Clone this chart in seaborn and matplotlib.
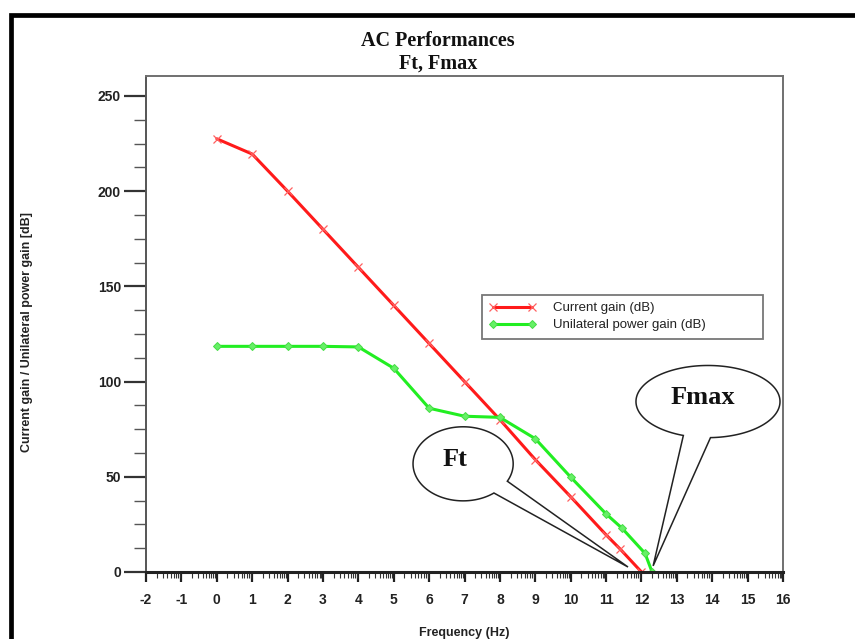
import numpy as np
import pandas as pd
import seaborn as sns
import matplotlib
matplotlib.use("Agg")
import matplotlib.pyplot as plt
from matplotlib.lines import Line2D
from matplotlib.patches import Polygon
from matplotlib.ticker import FixedLocator

# log10 of frequency (Hz) and the two gain curves (dB)
freq_current = [0, 1, 2, 3, 4, 5, 6, 7, 8, 9, 10, 11, 11.4, 12.0]
current_gain = [227.5, 219.5, 200, 180, 160, 140, 120, 100, 80, 59, 39.5, 19.5, 12, 0]

freq_power = [0, 1, 2, 3, 4, 5, 6, 7, 8, 9, 10, 11, 11.45, 12.1, 12.3]
power_gain = [118.5, 118.5, 118.5, 118.5, 118.2, 107, 86, 81.8, 81.2, 70, 49.8, 30.5, 23, 9.8, 0]

series_names = ["Current gain (dB)", "Unilateral power gain (dB)"]
x_ticks = list(range(-2, 17))
y_ticks = [0, 50, 100, 150, 200, 250]

sns.set_style("white")
plt.rcParams["font.family"] = ["Liberation Sans", "DejaVu Sans"]
plt.rcParams["axes.unicode_minus"] = False

df_current = pd.DataFrame({"freq": freq_current, "gain": current_gain})
df_power = pd.DataFrame({"freq": freq_power, "gain": power_gain})

RED = "#ff1a1a"
GREEN = "#22ee22"

fig = plt.figure(figsize=(8.55, 6.39), dpi=100)
ax = fig.add_axes([0.1708, 0.1049, 0.7450, 0.7762])

sns.lineplot(data=df_current, x="freq", y="gain", ax=ax, color=RED, lw=2.2,
             marker="x", markersize=5.5, markeredgewidth=0.9, markeredgecolor="#ff6060",
             sort=False, label=series_names[0])
sns.lineplot(data=df_power, x="freq", y="gain", ax=ax, color=GREEN, lw=2.2,
             marker="D", markersize=3.8, markeredgewidth=0.7, markerfacecolor="#66f066",
             markeredgecolor="#44dd44", sort=False, label=series_names[1])

ax.set_xlim(-2, 16)
ax.set_ylim(0, 260.5)

# axes frame
for side, sp in ax.spines.items():
    sp.set_visible(True)
    sp.set_color("#707070")
    sp.set_linewidth(1.4)
ax.spines["bottom"].set_color("#222222")
ax.spines["bottom"].set_linewidth(2.2)
ax.spines["left"].set_color("#555555")

# ticks
ax.xaxis.set_major_locator(FixedLocator(x_ticks))
minor_x = [i + np.log10(k) for i in range(-2, 16) for k in range(2, 10)]
ax.xaxis.set_minor_locator(FixedLocator(minor_x))
ax.yaxis.set_major_locator(FixedLocator(y_ticks))
ax.yaxis.set_minor_locator(FixedLocator(np.arange(0, 251, 12.5)))
ax.tick_params(axis="x", which="major", direction="out", length=7.5, width=1.6,
               color="#222222", pad=8, labelsize=10, bottom=True)
ax.tick_params(axis="x", which="minor", direction="out", length=4, width=0.8,
               color="#333333", bottom=True)
ax.tick_params(axis="y", which="major", direction="out", length=16, width=1.6,
               color="#333333", pad=2, labelsize=10, left=True)
ax.tick_params(axis="y", which="minor", direction="out", length=8.5, width=1.0,
               color="#555555", left=True)
for lab in ax.get_xticklabels() + ax.get_yticklabels():
    lab.set_fontweight("bold")
    lab.set_color("#222222")

ax.set_xlabel("Frequency (Hz)", fontsize=9, fontweight="bold", color="#222222")
ax.set_ylabel("Current gain / Unilateral power gain [dB]", fontsize=9,
              fontweight="bold", color="#222222")
ax.xaxis.set_label_coords(0.5, -0.111)
ax.yaxis.set_label_coords(-0.177, 0.484)

# legend
leg = ax.legend(loc="upper left", bbox_to_anchor=(0.5275, 0.4456, 0.4411, 0.1129),
                mode="expand", borderaxespad=0, fontsize=9.5, numpoints=2,
                handlelength=3.5, handletextpad=1.3, borderpad=0.55,
                labelspacing=0.35, fancybox=False, frameon=True)
leg.get_frame().set_edgecolor("#555555")
leg.get_frame().set_linewidth(1.3)
for t in leg.get_texts():
    t.set_color("#222222")


def callout(cx, cy, w, h, t_from, t_to, tip, text, tx, ty):
    """Speech-bubble ellipse with a pointed tail, drawn in data units."""
    a1, a2 = np.deg2rad(t_from), np.deg2rad(t_to)
    t = np.linspace(a2, a1 + 2 * np.pi, 200)
    pts = np.column_stack([cx + w / 2 * np.cos(t), cy + h / 2 * np.sin(t)])
    pts = np.vstack([pts, tip])
    ax.add_patch(Polygon(pts, closed=True, facecolor="white", edgecolor="#222222",
                         lw=1.1, zorder=5, joinstyle="miter"))
    ax.text(tx, ty, text, ha="center", va="center", fontsize=19, fontweight="bold",
            family=["Liberation Serif", "DejaVu Serif"], color="#111111", zorder=6)


callout(6.96, 56.8, 2.83, 38.9, -52, -28, (11.62, 2.6), "Ft", 6.72, 59.0)
callout(13.88, 89.5, 4.07, 37.9, -110, -88, (12.33, 3.2), "Fmax", 13.74, 91.6)

# titles
fig.text(0.512, 1 - 41 / 639, "AC Performances", ha="center", va="center",
         fontsize=14.5, fontweight="bold", family=["Liberation Serif", "DejaVu Serif"],
         color="#111111")
fig.text(0.512, 1 - 64 / 639, "Ft, Fmax", ha="center", va="center",
         fontsize=14.5, fontweight="bold", family=["Liberation Serif", "DejaVu Serif"],
         color="#111111")

# window frame along the top and left edges
fig.add_artist(Line2D([10.5 / 855, 10.5 / 855, 1.01], [-0.01, 1 - 15 / 639, 1 - 15 / 639],
                      transform=fig.transFigure, color="black", lw=3.4,
                      solid_joinstyle="miter"))

fig.savefig("out.png", dpi=100)
